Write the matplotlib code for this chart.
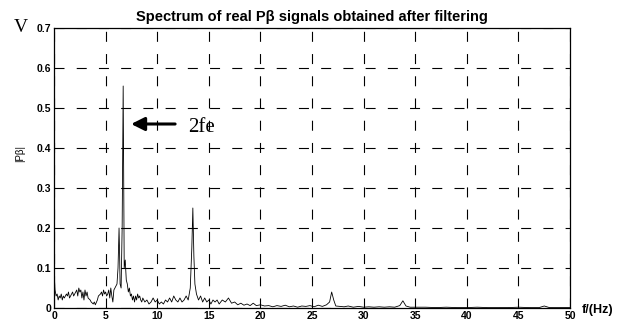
import matplotlib
matplotlib.use('Agg')
import matplotlib.pyplot as plt

# spectrum (frequency in Hz, amplitude in V)
freq = [0.0, 0.1, 0.2, 0.3, 0.4, 0.5, 0.6, 0.7, 0.8, 0.9, 1.0, 1.2, 1.3, 1.4, 1.5, 1.6, 1.8, 1.9,
        2.0, 2.2, 2.3, 2.4, 2.5, 2.6, 2.7, 2.8, 2.9, 3.0, 3.1, 3.2, 3.3, 3.5, 3.6, 3.8, 3.9,
        4.0, 4.2, 4.3, 4.5, 4.6, 4.7, 4.8, 4.9, 5.0, 5.1, 5.2, 5.3, 5.4, 5.5, 5.6, 5.7, 5.8, 5.9,
        6.0, 6.1, 6.2, 6.3, 6.35, 6.4, 6.5, 6.6, 6.7, 6.8, 6.9, 7.0, 7.1, 7.2, 7.3, 7.4, 7.5,
        7.6, 7.7, 7.8, 7.9, 8.0, 8.1, 8.2, 8.3, 8.4, 8.5, 8.6, 8.8, 9.0, 9.2, 9.4, 9.6, 9.8,
        10.0, 10.2, 10.4, 10.6, 10.8, 11.0, 11.2, 11.4, 11.6, 11.8, 12.0, 12.2, 12.4, 12.6,
        12.8, 13.0, 13.2, 13.35, 13.45, 13.55, 13.65, 13.8, 14.0, 14.2, 14.4, 14.6, 14.8,
        15.0, 15.2, 15.4, 15.6, 15.8, 16.0, 16.3, 16.6, 16.9, 17.2, 17.5, 17.8, 18.1, 18.4,
        18.7, 19.0, 19.3, 19.6, 20.0, 20.4, 20.8, 21.2, 21.6, 22.0, 22.4, 22.8, 23.2, 23.6,
        24.0, 24.4, 24.8, 25.2, 25.6, 26.0, 26.4, 26.7, 26.9, 27.1, 27.3, 27.7, 28.1, 28.5,
        29.0, 29.5, 30.0, 30.5, 31.0, 31.5, 32.0, 32.5, 33.0, 33.5, 33.8, 34.1, 34.5, 35.0,
        36.0, 37.0, 38.0, 39.0, 40.0, 41.0, 42.0, 43.0, 44.0, 45.0, 46.0, 47.0, 47.5, 48.0,
        49.0, 50.0]
amp = [0.09, 0.045, 0.03, 0.035, 0.02, 0.03, 0.025, 0.035, 0.02, 0.03, 0.025, 0.035, 0.03,
       0.04, 0.025, 0.03, 0.04, 0.03, 0.035, 0.045, 0.03, 0.05, 0.04, 0.045, 0.025, 0.04,
       0.02, 0.045, 0.03, 0.04, 0.025, 0.02, 0.015, 0.01, 0.015, 0.008, 0.02, 0.03, 0.035,
       0.04, 0.03, 0.045, 0.035, 0.04, 0.03, 0.035, 0.045, 0.025, 0.05, 0.03, 0.015, 0.045,
       0.05, 0.055, 0.06, 0.1, 0.2, 0.14, 0.06, 0.05, 0.2, 0.555, 0.1, 0.12, 0.07, 0.06,
       0.04, 0.05, 0.03, 0.035, 0.02, 0.03, 0.015, 0.03, 0.02, 0.035, 0.025, 0.03, 0.02,
       0.015, 0.025, 0.015, 0.02, 0.01, 0.015, 0.025, 0.015, 0.02, 0.01, 0.015, 0.01, 0.02,
       0.015, 0.025, 0.015, 0.03, 0.02, 0.015, 0.025, 0.015, 0.02, 0.03, 0.02, 0.05, 0.15,
       0.25, 0.13, 0.06, 0.035, 0.02, 0.03, 0.015, 0.025, 0.015, 0.02, 0.01, 0.02, 0.015,
       0.02, 0.01, 0.02, 0.015, 0.025, 0.012, 0.015, 0.008, 0.012, 0.007, 0.01, 0.006,
       0.012, 0.006, 0.008, 0.005, 0.006, 0.003, 0.006, 0.004, 0.007, 0.003, 0.005, 0.002,
       0.005, 0.004, 0.006, 0.003, 0.007, 0.004, 0.008, 0.015, 0.04, 0.02, 0.005, 0.004,
       0.003, 0.005, 0.002, 0.004, 0.002, 0.003, 0.002, 0.003, 0.002, 0.003, 0.002, 0.006,
       0.018, 0.005, 0.002, 0.002, 0.002, 0.001, 0.002, 0.001, 0.001, 0.002, 0.001, 0.001,
       0.001, 0.002, 0.001, 0.001, 0.005, 0.001, 0.001, 0.0015]

xticks = [0, 5, 10, 15, 20, 25, 30, 35, 40, 45, 50]
yticks = [0, 0.1, 0.2, 0.3, 0.4, 0.5, 0.6, 0.7]
yticklabels = ['0', '0.1', '0.2', '0.3', '0.4', '0.5', '0.6', '0.7']

tickfont = {'family': 'Liberation Sans', 'weight': 'bold', 'size': 7.5}

fig = plt.figure(figsize=(6.21, 3.2), dpi=100)
ax = fig.add_axes([0.087, 0.0375, 0.831, 0.875])
ax.plot(freq, amp, color='black', linewidth=0.6)
ax.set_xlim(0, 50)
ax.set_ylim(0, 0.7)
ax.set_xticks(xticks)
ax.set_xticklabels([str(t) for t in xticks], fontdict=tickfont)
ax.set_yticks(yticks)
ax.set_yticklabels(yticklabels, fontdict=tickfont)
ax.tick_params(direction='in', length=3, width=0.6, pad=2)
ax.grid(True, color='black', linestyle=(0, (9, 11)), linewidth=0.8)
for s in ax.spines.values():
    s.set_linewidth(0.9)

ax.set_title('Spectrum of real P\u03b2 signals obtained after filtering',
             fontfamily='Liberation Sans', fontweight='bold', fontsize=10.5, pad=5)

ax.annotate('', xy=(7.2, 0.46), xytext=(12.0, 0.46),
            arrowprops=dict(arrowstyle='-|>,head_length=0.8,head_width=0.4',
                            color='black', lw=2.2))
ax.text(13.0, 0.452, '2fe', fontfamily='Liberation Serif', fontsize=15, va='center')

fig.text(0.022, 0.915, 'V', fontfamily='Liberation Serif', fontsize=14, va='center')
fig.text(0.033, 0.52, '|P\u03b2|', fontfamily='Liberation Sans', fontsize=7,
         rotation=90, va='center', ha='center')
fig.text(0.937, 0.03, 'f/(Hz)', fontfamily='Liberation Sans', fontweight='bold',
         fontsize=9, va='center')

fig.savefig('out.png', dpi=100)
